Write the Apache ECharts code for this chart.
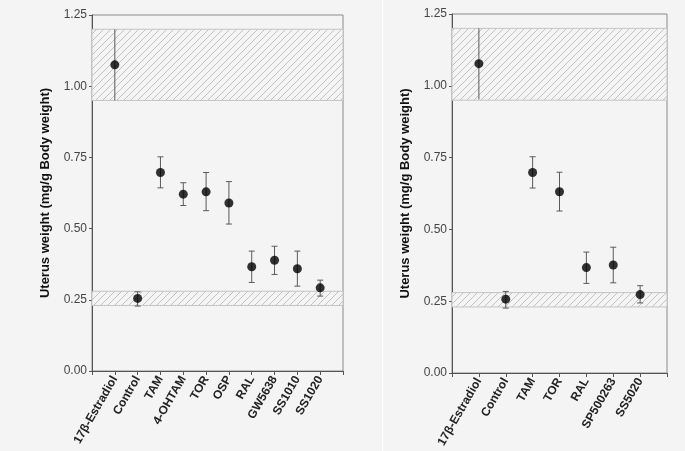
<!DOCTYPE html>
<html>
<head>
<meta charset="utf-8">
<script src="https://cdn.jsdelivr.net/npm/echarts@6/dist/echarts.min.js"></script>
<style>
html,body{margin:0;padding:0;background:#f4f4f4;}
#chart{width:685px;height:451px;}
</style>
</head>
<body>
<div id="chart"></div>
<script>
// ---- Data ----
const categoriesA = ['17\u03B2-Estradiol','Control','TAM','4-OHTAM','TOR','OSP','RAL','GW5638','SS1010','SS1020'];
const meansA = [1.075, 0.255, 0.697, 0.621, 0.629, 0.590, 0.366, 0.389, 0.359, 0.292];
const lowA   = [0.950, 0.228, 0.643, 0.581, 0.563, 0.516, 0.311, 0.339, 0.298, 0.263];
const highA  = [1.200, 0.278, 0.752, 0.661, 0.697, 0.665, 0.421, 0.438, 0.421, 0.319];

const categoriesB = ['17\u03B2-Estradiol','Control','TAM','TOR','RAL','SP500263','SS5020'];
const meansB = [1.077, 0.257, 0.698, 0.631, 0.367, 0.376, 0.273];
const lowB   = [0.953, 0.226, 0.644, 0.564, 0.312, 0.314, 0.244];
const highB  = [1.200, 0.284, 0.753, 0.699, 0.421, 0.438, 0.304];

const estradiolBand = [0.95, 1.20];
const controlBand = [0.23, 0.28];

// ---- Hatch pattern ----
function makeHatch() {
  const s = 7;
  const c = document.createElement('canvas');
  c.width = s; c.height = s;
  const g = c.getContext('2d');
  g.fillStyle = '#f4f4f4';
  g.fillRect(0, 0, s, s);
  g.strokeStyle = '#c2c2c2';
  g.lineWidth = 1;
  g.beginPath();
  g.moveTo(0, s); g.lineTo(s, 0);
  g.moveTo(-1, 1); g.lineTo(1, -1);
  g.moveTo(s - 1, s + 1); g.lineTo(s + 1, s - 1);
  g.stroke();
  return c;
}
const hatch = { image: makeHatch(), repeat: 'repeat' };

const font = 'Liberation Sans, Arial, sans-serif';

function xAxisFor(idx, cats) {
  return {
    type: 'value', gridIndex: idx, min: 0, max: cats.length + 1, interval: 1,
    axisLine: { show: true, lineStyle: { color: '#555', width: 1 } },
    axisTick: { show: true, length: 4, lineStyle: { color: '#555' } },
    splitLine: { show: false },
    axisLabel: {
      rotate: 60, margin: 6, fontFamily: font, fontSize: 12, fontWeight: 'bold', color: '#222',
      formatter: v => (v >= 1 && v <= cats.length) ? cats[v - 1] : ''
    }
  };
}
function yAxisFor(idx) {
  return {
    type: 'value', gridIndex: idx, min: 0, max: 1.25, interval: 0.25,
    name: 'Uterus weight (mg/g Body weight)', nameLocation: 'middle', nameGap: 40,
    nameTextStyle: { fontFamily: font, fontSize: 13, fontWeight: 'bold', color: '#111' },
    axisLine: { show: true, lineStyle: { color: '#555', width: 1 } },
    axisTick: { show: true, length: 3, lineStyle: { color: '#555' } },
    splitLine: { show: false },
    axisLabel: { fontFamily: font, fontSize: 12, color: '#444', margin: 5,
      formatter: v => v.toFixed(2) }
  };
}

function errSeries(idx, low, high) {
  return {
    type: 'custom', xAxisIndex: idx, yAxisIndex: idx, z: 5,
    data: low.map((l, i) => [i + 1, l, high[i]]),
    encode: { x: 0, y: [1, 2] },
    renderItem: function (params, api) {
      const x = api.value(0);
      const p1 = api.coord([x, api.value(1)]);
      const p2 = api.coord([x, api.value(2)]);
      const w = 3;
      const st = { stroke: '#5a5a5a', lineWidth: 1 };
      const children = [
        { type: 'line', shape: { x1: p1[0], y1: p1[1], x2: p2[0], y2: p2[1] }, style: st }
      ];
      // the estradiol bar coincides with its reference band: no caps
      if (params.dataIndex !== 0) {
        children.push(
          { type: 'line', shape: { x1: p1[0] - w, y1: p1[1], x2: p1[0] + w, y2: p1[1] }, style: st },
          { type: 'line', shape: { x1: p2[0] - w, y1: p2[1], x2: p2[0] + w, y2: p2[1] }, style: st }
        );
      }
      return { type: 'group', children: children };
    }
  };
}

function dotSeries(idx, means) {
  return {
    type: 'scatter', xAxisIndex: idx, yAxisIndex: idx, z: 6,
    symbol: 'circle', symbolSize: 9,
    itemStyle: { color: '#000' },
    data: means.map((m, i) => [i + 1, m]),
    markArea: {
      silent: true,
      z: 1,
      itemStyle: { color: hatch, borderColor: '#c4c4c4', borderWidth: 1 },
      data: [
        [{ yAxis: estradiolBand[0] }, { yAxis: estradiolBand[1] }],
        [{ yAxis: controlBand[0] }, { yAxis: controlBand[1] }]
      ]
    }
  };
}

const chart = echarts.init(document.getElementById('chart'), null, { renderer: 'canvas' });
chart.setOption({
  backgroundColor: '#f4f4f4',
  animation: false,
  graphic: [
    { type: 'rect', shape: { x: 382, y: 0, width: 1, height: 451 }, style: { fill: '#ffffff' }, silent: true }
  ],
  grid: [
    { left: 92, top: 15, width: 251, height: 356, show: true, borderColor: '#8a8a8a', borderWidth: 1, backgroundColor: 'transparent' },
    { left: 452, top: 14, width: 215, height: 359, show: true, borderColor: '#8a8a8a', borderWidth: 1, backgroundColor: 'transparent' }
  ],
  xAxis: [xAxisFor(0, categoriesA), xAxisFor(1, categoriesB)],
  yAxis: [yAxisFor(0), yAxisFor(1)],
  series: [
    dotSeries(0, meansA), errSeries(0, lowA, highA),
    dotSeries(1, meansB), errSeries(1, lowB, highB)
  ]
});
</script>
</body>
</html>
